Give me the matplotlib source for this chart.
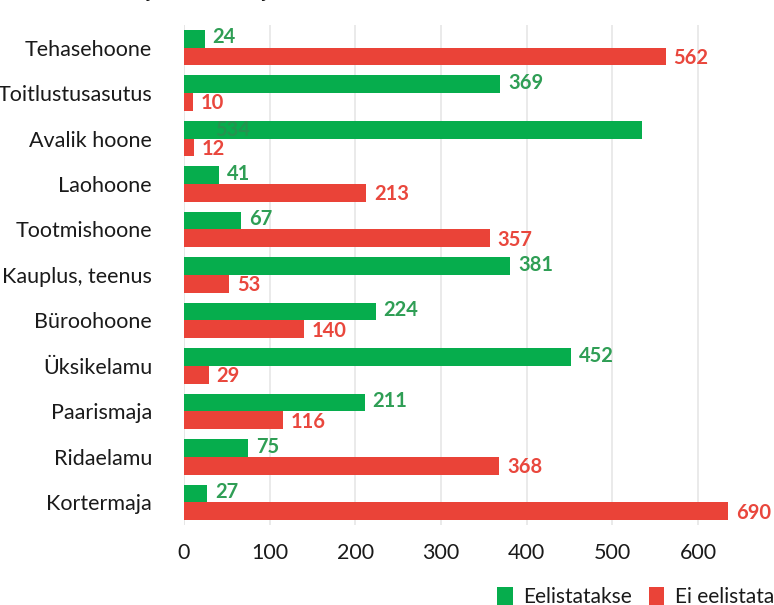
import numpy as np
from matplotlib import pyplot as plt

plt.rcParams['font.family'] = ['Lato', 'DejaVu Sans']

# andmed
categories = ['Tehasehoone', 'Toitlustusasutus', 'Avalik hoone', 'Laohoone', 'Tootmishoone',
              'Kauplus, teenus', 'Büroohoone', 'Üksikelamu', 'Paarismaja', 'Ridaelamu', 'Kortermaja']
preferred = [24, 369, 534, 41, 67, 381, 224, 452, 211, 75, 27]
not_preferred = [562, 10, 12, 213, 357, 53, 140, 29, 116, 368, 690]

green = '#06ad4d'
red = '#ea4338'
green_txt = '#2f9e55'
red_txt = '#e9473d'

xmax = 635

figure = plt.figure(figsize=(7.74, 6.05), dpi=100)
axes = figure.add_axes([0.2377, 0.132, 0.703, 0.827])

y = np.arange(len(categories))
h = 0.39
axes.barh(y - h / 2, preferred, height=h, color=green, label='Eelistatakse', zorder=2)
axes.barh(y + h / 2, not_preferred, height=h, color=red, label='Ei eelistata', zorder=2)

# väärtuste sildid
for i, v in enumerate(preferred):
    if v > 500:
        axes.text(36, i - h / 2, str(v), color='#3d7f52', alpha=0.55, fontsize=14.5,
                  fontweight='bold', va='center', ha='left', zorder=3)
    else:
        axes.text(v + 9, i - h / 2 - 0.03, str(v), color=green_txt, fontsize=14.5,
                  fontweight='bold', va='center', ha='left', zorder=3)
for i, v in enumerate(not_preferred):
    axes.text(min(v, xmax) + 9, i + h / 2 + 0.03, str(v), color=red_txt, fontsize=14.5,
              fontweight='bold', va='center', ha='left', zorder=3, clip_on=False)

axes.set_xlim(0, xmax)
axes.set_ylim(len(categories) - 0.5, -0.5)
axes.set_yticks(y)
axes.set_yticklabels(categories, fontsize=15.5, color='#1a1a1a')
axes.set_xticks([0, 100, 200, 300, 400, 500, 600])
axes.tick_params(axis='x', labelsize=15.5, colors='#1a1a1a', length=0, pad=13)
axes.tick_params(axis='y', length=0, pad=23)
axes.grid(axis='x', color='#e6e6e6', linewidth=1.2, zorder=0)
axes.axvline(0, color='#e6e6e6', linewidth=1.2, zorder=0)
for s in axes.spines.values():
    s.set_visible(False)

figure.legend(loc='center left', bbox_to_anchor=(0.618, 0.013), ncol=2, frameon=False,
              fontsize=15, handlelength=0.75, handleheight=0.9, handletextpad=0.5,
              columnspacing=0.8, labelcolor='#1a1a1a')

# pealkiri, osaliselt pildist väljas (nagu originaalis)
figure.text(-0.01, 1.012, 'Joonis 14.', color='#1f8fc6', fontsize=14, fontweight='bold', va='center')
figure.text(0.115, 1.012, 'Arendajad eelistatud ja mitte-eelistatud hoonete osas.',
            color='#111111', fontsize=14, fontweight='bold', fontstyle='italic', va='center')

plt.savefig('out.png', dpi=100)
